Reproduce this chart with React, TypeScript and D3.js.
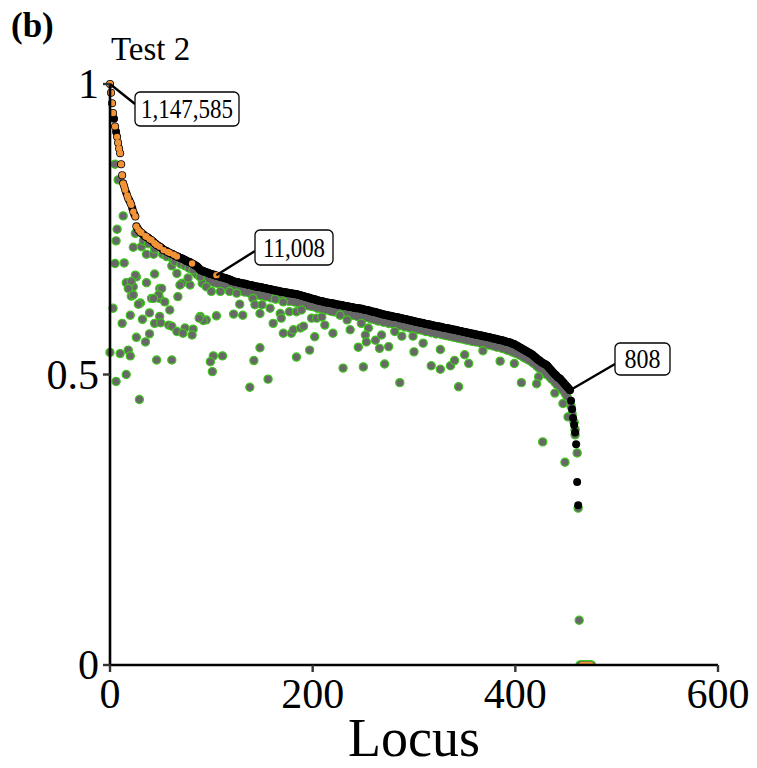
import React from "react";
import * as d3 from "d3";

// ---------- data ----------
const xTicks = [0, 200, 400, 600];
const xTickLabels = ["0", "200", "400", "600"];
const yTicks = [0, 0.5, 1];
const yTickLabels = ["0", "0.5", "1"];
const xLabel = "Locus";
const title = "Test 2";
const panelTag = "(b)";

// ranked observed values (per mille), locus = index
const observedPermille = [
  1000, 985, 967, 950, 940, 927, 918, 909, 899, 889,
  881, 862, 843, 829, 824, 818, 813, 808, 803, 800,
  796, 792, 786, 780, 776, 772, 755, 752, 749, 747,
  745, 744, 742, 741, 739, 738, 737, 736, 735, 733,
  732, 731, 729, 728, 726, 725, 723, 722, 721, 720,
  719, 717, 716, 714, 714, 713, 712, 711, 710, 709,
  708, 708, 707, 706, 705, 704, 703, 703, 702, 701,
  700, 700, 699, 698, 697, 696, 695, 694, 694, 693,
  692, 691, 690, 689, 688, 687, 686, 684, 682, 680,
  679, 679, 678, 677, 677, 676, 675, 675, 674, 673,
  673, 672, 672, 671, 671, 670, 670, 669, 669, 668,
  668, 667, 667, 666, 666, 665, 665, 664, 663, 663,
  661, 661, 660, 660, 659, 659, 659, 658, 658, 657,
  657, 657, 656, 656, 656, 655, 655, 654, 654, 654,
  653, 653, 652, 652, 652, 651, 651, 651, 650, 650,
  650, 649, 649, 649, 648, 648, 647, 647, 647, 646,
  646, 646, 645, 645, 644, 644, 644, 643, 643, 643,
  642, 642, 642, 641, 641, 641, 640, 640, 640, 640,
  639, 639, 639, 638, 638, 638, 637, 637, 636, 636,
  635, 635, 634, 634, 633, 633, 632, 632, 631, 631,
  630, 630, 629, 629, 628, 628, 627, 627, 626, 626,
  626, 625, 625, 624, 624, 624, 623, 623, 623, 622,
  622, 622, 621, 621, 621, 620, 620, 620, 619, 619,
  619, 618, 618, 618, 617, 617, 617, 616, 616, 616,
  615, 615, 615, 614, 614, 614, 614, 613, 613, 613,
  612, 612, 611, 611, 611, 610, 610, 609, 609, 608,
  608, 608, 607, 607, 606, 606, 605, 605, 604, 604,
  603, 603, 603, 602, 602, 601, 601, 601, 600, 600,
  600, 599, 599, 599, 598, 598, 597, 597, 597, 596,
  596, 595, 595, 595, 594, 594, 593, 593, 593, 592,
  592, 591, 591, 591, 590, 590, 589, 589, 589, 588,
  588, 587, 587, 587, 586, 586, 586, 585, 585, 584,
  584, 584, 583, 583, 583, 582, 582, 582, 581, 581,
  580, 580, 580, 579, 579, 579, 578, 578, 578, 577,
  577, 577, 576, 576, 575, 575, 575, 574, 574, 573,
  573, 573, 572, 572, 572, 571, 571, 570, 570, 570,
  569, 569, 569, 568, 568, 567, 567, 567, 566, 566,
  566, 565, 565, 564, 564, 564, 563, 563, 562, 562,
  562, 561, 561, 560, 560, 560, 559, 559, 558, 558,
  557, 557, 556, 556, 555, 555, 554, 553, 553, 552,
  551, 550, 549, 548, 547, 546, 545, 544, 543, 542,
  541, 540, 539, 538, 537, 536, 535, 534, 532, 531,
  529, 528, 526, 525, 524, 522, 521, 520, 519, 518,
  517, 516, 514, 512, 510, 508, 506, 504, 502, 500,
  499, 497, 495, 494, 493, 491, 489, 487, 485, 483,
  481, 479, 477, 475, 473, 455, 440, 425, 413, 400,
  380, 315, 275,
];

// highlighted (orange) loci: [locus, value]
const highlighted: [number, number][] = [
  [0, 1.0], [1, 0.985], [2, 0.967], [3, 0.95], [5, 0.927], [7, 0.909], [8, 0.899],
  [9, 0.889], [10, 0.881], [11, 0.862], [12, 0.843], [13, 0.829], [14, 0.824],
  [15, 0.818], [17, 0.808], [18, 0.803], [20, 0.796], [21, 0.792], [23, 0.78],
  [25, 0.772], [26, 0.755], [28, 0.749], [30, 0.745], [31, 0.744], [35, 0.738],
  [36, 0.737], [39, 0.733], [41, 0.731], [44, 0.726], [46, 0.723], [49, 0.72],
  [53, 0.714], [57, 0.711], [59, 0.709], [63, 0.706], [66, 0.703], [81, 0.691],
  [105, 0.671],
  [466, 0], [468, 0], [470, 0], [472, 0], [474, 0],
];

// second test (grey) values scattered below the curve: [locus, value]
const scatterPoints: [number, number][] = [
  [5, 0.862], [8, 0.835], [13, 0.773], [7, 0.75], [6, 0.73], [23, 0.719], [31, 0.72],
  [36, 0.707], [43, 0.707], [5, 0.691], [14, 0.692], [25, 0.743], [61, 0.687],
  [66, 0.674], [44, 0.673], [26, 0.668], [16, 0.658], [36, 0.658], [49, 0.648],
  [71, 0.657], [79, 0.654], [91, 0.657], [25, 0.671], [23, 0.651], [21, 0.635],
  [30, 0.623], [41, 0.631], [49, 0.631], [54, 0.625], [67, 0.634], [69, 0.654],
  [77, 0.666], [89, 0.668], [95, 0.651], [3, 0.614], [21, 0.66], [23, 0.637],
  [18, 0.648], [51, 0.648], [48, 0.637], [43, 0.631], [28, 0.621], [20, 0.602],
  [32, 0.595], [39, 0.606], [49, 0.6], [59, 0.611], [44, 0.588], [50, 0.589],
  [58, 0.585], [61, 0.583], [12, 0.588], [66, 0.574], [74, 0.58], [82, 0.578],
  [72, 0.571], [81, 0.568], [39, 0.57], [26, 0.564], [35, 0.556], [89, 0.6],
  [95, 0.594], [105, 0.601], [92, 0.593], [88, 0.597], [122, 0.604], [131, 0.602],
  [128, 0.621], [100, 0.643], [109, 0.643], [118, 0.643], [125, 0.64], [141, 0.631],
  [143, 0.62], [150, 0.62], [158, 0.614], [168, 0.605], [169, 0.597], [161, 0.588],
  [177, 0.608], [171, 0.571], [179, 0.571], [181, 0.577], [0, 0.538], [10, 0.536],
  [18, 0.542], [20, 0.532], [46, 0.525], [61, 0.525], [102, 0.532], [111, 0.532],
  [99, 0.522], [101, 0.505], [142, 0.524], [148, 0.546], [184, 0.53], [16, 0.5],
  [6, 0.488], [29, 0.457], [138, 0.478], [156, 0.492], [148, 0.605], [184, 0.608],
  [189, 0.611], [188, 0.58], [191, 0.583], [163, 0.63], [171, 0.625], [199, 0.597],
  [204, 0.597], [209, 0.599], [212, 0.585], [202, 0.565], [220, 0.571], [227, 0.602],
  [234, 0.594], [237, 0.577], [248, 0.588], [255, 0.58], [252, 0.568], [253, 0.556],
  [262, 0.559], [268, 0.568], [266, 0.545], [275, 0.548], [245, 0.547], [281, 0.574],
  [197, 0.542], [230, 0.511], [250, 0.513], [271, 0.518], [286, 0.486], [288, 0.566],
  [299, 0.566], [309, 0.554], [300, 0.539], [326, 0.543], [317, 0.515], [326, 0.509],
  [336, 0.515], [340, 0.524], [350, 0.534], [354, 0.519], [368, 0.541], [385, 0.523],
  [399, 0.519], [344, 0.479], [406, 0.486], [423, 0.496], [421, 0.484], [439, 0.468],
  [447, 0.45], [452, 0.427], [427, 0.384], [449, 0.349], [461, 0.365], [462, 0.27],
  [463, 0.077], [459, 0.396],
  [33, 0.73], [38, 0.725], [44, 0.716], [52, 0.707], [56, 0.703], [62, 0.698],
  [64, 0.694], [70, 0.69], [74, 0.687], [78, 0.683], [82, 0.68],
];

// grey values lying just beneath the ranked curve: [locus, value]
const bandPoints: [number, number][] = [
  [84, 0.676], [86, 0.672], [88, 0.67], [91, 0.668], [93, 0.665], [96, 0.664], [98, 0.66],
  [101, 0.662], [103, 0.658], [106, 0.657], [108, 0.659], [111, 0.655], [113, 0.653],
  [116, 0.654], [118, 0.65], [121, 0.649], [123, 0.648], [126, 0.646], [128, 0.647],
  [131, 0.644], [133, 0.642], [136, 0.643], [138, 0.64], [141, 0.639], [144, 0.64],
  [146, 0.637], [149, 0.636], [151, 0.637], [154, 0.634], [156, 0.635], [159, 0.632],
  [162, 0.633], [164, 0.63], [167, 0.631], [169, 0.629], [172, 0.628], [175, 0.629],
  [177, 0.626], [180, 0.627], [182, 0.625], [185, 0.624], [187, 0.623], [190, 0.621],
  [192, 0.622], [195, 0.619], [197, 0.618], [200, 0.617], [203, 0.616], [205, 0.614],
  [208, 0.615], [210, 0.612], [213, 0.611], [215, 0.612], [218, 0.609], [221, 0.608],
  [223, 0.609], [226, 0.606], [228, 0.607], [231, 0.604], [234, 0.605], [236, 0.603],
  [239, 0.602], [241, 0.603], [244, 0.6], [247, 0.601], [249, 0.599], [252, 0.598],
  [254, 0.599], [257, 0.596], [260, 0.595], [262, 0.594], [265, 0.592], [267, 0.593],
  [270, 0.59], [273, 0.591], [275, 0.588], [278, 0.589], [280, 0.587], [283, 0.586],
  [286, 0.584], [288, 0.585], [291, 0.582], [293, 0.583], [296, 0.58], [299, 0.581],
  [301, 0.578], [304, 0.579], [306, 0.577], [309, 0.576], [312, 0.574], [314, 0.575],
  [317, 0.572], [319, 0.573], [322, 0.57], [325, 0.571], [327, 0.569], [330, 0.568],
  [332, 0.567], [335, 0.566], [338, 0.565], [340, 0.564], [343, 0.563], [345, 0.562],
  [348, 0.561], [351, 0.56], [353, 0.559], [356, 0.558], [358, 0.557], [361, 0.556],
  [364, 0.556], [366, 0.554], [369, 0.553], [371, 0.552], [374, 0.551], [377, 0.55],
  [379, 0.549], [382, 0.547], [384, 0.548], [387, 0.545], [390, 0.544], [392, 0.542],
  [395, 0.541], [397, 0.539], [400, 0.537], [403, 0.535], [405, 0.533], [408, 0.53],
  [410, 0.528], [413, 0.525], [416, 0.522], [418, 0.519], [421, 0.515], [423, 0.512],
  [426, 0.508], [428, 0.505], [431, 0.5], [434, 0.496], [436, 0.492], [439, 0.487],
  [441, 0.483], [444, 0.478], [446, 0.474], [449, 0.468], [451, 0.462], [453, 0.455],
  [455, 0.445], [456, 0.432], [458, 0.418], [459, 0.405],
];

// grey values equal to zero
const zeroLoci = [464, 465, 466, 467, 468, 469, 470, 471, 472, 473, 474, 475];

// labelled loci
const labelTexts = ["1,147,585", "11,008", "808"];
const labelLoci = [0, 105, 454];
const labelValues = [1.0, 0.671, 0.473];

// ---------- component ----------
export default function App() {
  const W = 757;
  const H = 768;
  const x = d3.scaleLinear().domain([0, 600]).range([110, 718]);
  const y = d3.scaleLinear().domain([0, 1]).range([665, 84]);

  const band = [
    ...bandPoints,
    ...zeroLoci.map((l) => [l, 0] as [number, number]),
  ];
  const black = observedPermille.map((v, i) => [i, v / 1000] as [number, number]);

  const serif = "'Liberation Serif', 'Times New Roman', serif";
  const orange = "#f29337";
  const greenStroke = "#3fc71c";
  const greyFill = "#686868";
  const gr = 4.1;

  // label boxes: [cx, cy, w, h, textLength]
  const boxes = [
    [187, 109, 104, 34, 92],
    [294, 247.5, 78, 35, 62],
    [642.5, 359, 55, 32, 36],
  ];
  const lineEnds = [
    [135, 104],
    [255, 251],
    [615, 364],
  ];

  return (
    <svg
      width={W}
      height={H}
      style={{ position: "absolute", left: 0, top: 0, background: "#fff" }}
      fontFamily={serif}
    >
      <defs>
        <clipPath id="panel">
          <rect x={100} y={0} width={640} height={665} />
        </clipPath>
      </defs>

      <g clipPath="url(#panel)">
        {/* dense band: outlines first, fills on top */}
        {band.map(([l, v], i) => (
          <circle key={"bs" + i} cx={x(l)} cy={y(v)} r={gr + 0.7} fill={greenStroke} />
        ))}
        {band.map(([l, v], i) => (
          <circle key={"bf" + i} cx={x(l)} cy={y(v)} r={gr - 0.5} fill={greyFill} />
        ))}
        {scatterPoints.map(([l, v], i) => (
          <circle
            key={"g" + i}
            cx={x(l)}
            cy={y(v)}
            r={gr}
            fill={greyFill}
            stroke={greenStroke}
            strokeWidth={1.2}
          />
        ))}
        {black.map(([l, v], i) => (
          <circle key={"b" + i} cx={x(l)} cy={y(v)} r={4} fill="#000" />
        ))}
        {highlighted.map(([l, v], i) => (
          <circle key={"o" + i} cx={x(l)} cy={y(v)} r={3.2} fill={orange} />
        ))}
      </g>

      {/* leader lines and labels */}
      {labelTexts.map((t, i) => {
        const [cx, cy, w, h, tl] = boxes[i];
        const [ex, ey] = lineEnds[i];
        return (
          <g key={"lab" + i}>
            <line
              x1={x(labelLoci[i])}
              y1={y(labelValues[i])}
              x2={ex}
              y2={ey}
              stroke="#000"
              strokeWidth={2.4}
            />
            <rect
              x={cx - w / 2}
              y={cy - h / 2}
              width={w}
              height={h}
              rx={5}
              fill="#fff"
              stroke="#000"
              strokeWidth={1.3}
            />
            <text
              x={cx}
              y={cy + 9}
              textAnchor="middle"
              fontSize={27}
              textLength={tl}
              lengthAdjust="spacingAndGlyphs"
              fill="#000"
            >
              {t}
            </text>
          </g>
        );
      })}

      {/* axes */}
      <line x1={110} y1={y(1)} x2={110} y2={665} stroke="#000" strokeWidth={2.6} />
      <line x1={110} y1={665} x2={718} y2={665} stroke="#000" strokeWidth={2.6} />
      {yTicks.map((t, i) => (
        <g key={"yt" + i}>
          <line x1={103} x2={110} y1={y(t)} y2={y(t)} stroke="#333" strokeWidth={2.4} />
          <text x={99} y={y(t) + 14} textAnchor="end" fontSize={42} fill="#000">
            {yTickLabels[i]}
          </text>
        </g>
      ))}
      {xTicks.map((t, i) => (
        <g key={"xt" + i}>
          <line x1={x(t)} x2={x(t)} y1={665} y2={672} stroke="#333" strokeWidth={2.4} />
          <text x={x(t)} y={708} textAnchor="middle" fontSize={42} fill="#000">
            {xTickLabels[i]}
          </text>
        </g>
      ))}
      <text x={414} y={756} textAnchor="middle" fontSize={54} fill="#000">
        {xLabel}
      </text>
      <text x={111} y={60} fontSize={33} fill="#000">
        {title}
      </text>
      <text x={11} y={37} fontSize={35} fontWeight="bold" fill="#000">
        {panelTag}
      </text>
    </svg>
  );
}
